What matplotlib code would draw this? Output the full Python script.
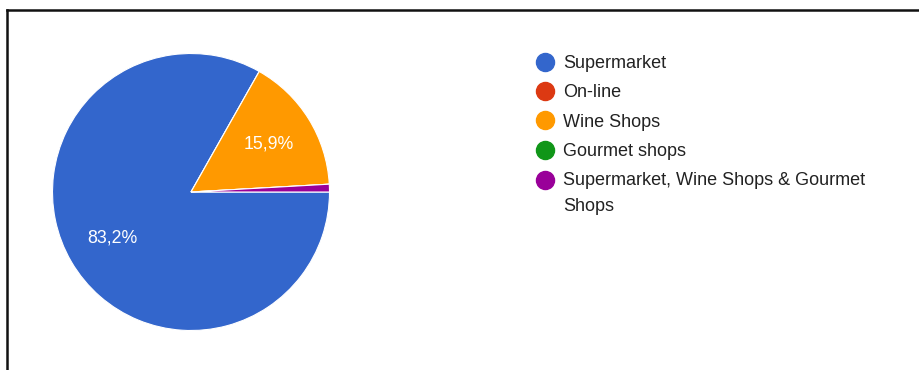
import matplotlib
matplotlib.use('Agg')
import matplotlib.pyplot as plt
from matplotlib.lines import Line2D
from matplotlib.legend_handler import HandlerLine2D

categories = ['Supermarket', 'On-line', 'Wine Shops', 'Gourmet shops',
              'Supermarket, Wine Shops & Gourmet\nShops']
shares = [83.2, 0.0, 15.9, 0.0, 0.9]
colors = ['#3366cc', '#dc3912', '#ff9900', '#109618', '#990099']

plt.rcParams['font.family'] = ['Liberation Sans', 'DejaVu Sans']


def pct_label(p):
    # only the big slices get a label, written with a decimal comma
    if p < 5:
        return ''
    return ('%.1f%%' % p).replace('.', ',')


class TopMarkerHandler(HandlerLine2D):
    """Puts the marker next to the first line of a wrapped label."""

    def __init__(self, shift, **kw):
        super().__init__(**kw)
        self.shift = shift

    def create_artists(self, legend, orig_handle, xdescent, ydescent,
                       width, height, fontsize, trans):
        artists = super().create_artists(legend, orig_handle, xdescent,
                                         ydescent, width, height, fontsize,
                                         trans)
        for a in artists:
            a.set_ydata([y + self.shift for y in a.get_ydata()])
        return artists


fig = plt.figure(figsize=(9.19, 3.70), dpi=100)
ax = fig.add_axes([52.5 / 919, 39.5 / 370, 277 / 919, 277 / 370])

wedges, texts, autotexts = ax.pie(
    shares, colors=colors, startangle=0, counterclock=False,
    autopct=pct_label, pctdistance=0.66, radius=1.0,
    wedgeprops=dict(edgecolor='white', linewidth=0.8),
    textprops=dict(color='white', fontsize=12.8))
ax.set_xlim(-1.0, 1.0)
ax.set_ylim(-1.0, 1.0)
ax.set_aspect('equal')

# legend with round markers
handles = [Line2D([], [], linestyle='none', marker='o', markersize=13,
                  markerfacecolor=c, markeredgecolor=c) for c in colors]
leg = fig.legend(handles, categories, loc='upper left',
                 bbox_to_anchor=(536 / 919, 1 - 55 / 370), frameon=False,
                 fontsize=13, labelcolor='#222222', handlelength=1.0,
                 handletextpad=0.5, labelspacing=0.68, borderpad=0,
                 borderaxespad=0,
                 handler_map={handles[-1]: TopMarkerHandler(shift=9.8)})
for t in leg.get_texts():
    t.set_linespacing(1.65)

# frame lines along the top and left edge
fig.add_artist(Line2D([7 / 919, 1], [1 - 10 / 370, 1 - 10 / 370],
                      transform=fig.transFigure, color='#111111', linewidth=1.8))
fig.add_artist(Line2D([7 / 919, 7 / 919], [0, 1 - 10 / 370],
                      transform=fig.transFigure, color='#111111', linewidth=1.8))

fig.savefig('out.png', dpi=100)
